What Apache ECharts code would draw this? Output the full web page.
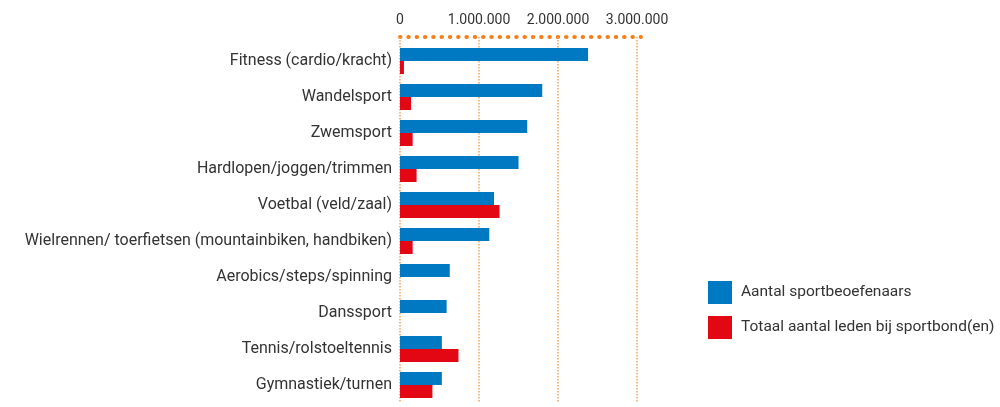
<!DOCTYPE html>
<html>
<head>
<meta charset="utf-8">
<script src="https://cdn.jsdelivr.net/npm/echarts@6/dist/echarts.min.js"></script>
<style>
  html, body { margin: 0; padding: 0; background: #fff; }
  #chart { width: 1000px; height: 407px; }
</style>
</head>
<body>
<div id="chart"></div>
<script>
// sporten, van boven naar beneden
var categories = [
  "Fitness (cardio/kracht)",
  "Wandelsport",
  "Zwemsport",
  "Hardlopen/joggen/trimmen",
  "Voetbal (veld/zaal)",
  "Wielrennen/ toerfietsen (mountainbiken, handbiken)",
  "Aerobics/steps/spinning",
  "Danssport",
  "Tennis/rolstoeltennis",
  "Gymnastiek/turnen"
];

var beoefenaars = [2380000, 1800000, 1610000, 1500000, 1190000, 1130000, 630000, 590000, 530000, 530000];
var leden = [50000, 140000, 160000, 210000, 1260000, 160000, 0, 0, 740000, 410000];

var tickLabels = ["0", "1.000.000", "2.000.000", "3.000.000"];

var orange = "#f57f17";     // as-lijn (stippen)
var orangeLight = "#f3a25a"; // rasterlijnen

var chart = echarts.init(document.getElementById("chart"));
chart.setOption({
  animation: false,
  textStyle: { fontFamily: "Roboto" },
  legend: {
    orient: "vertical",
    left: 703,
    top: 276,
    itemWidth: 24,
    itemHeight: 23,
    itemGap: 12,
    icon: "rect",
    textStyle: { fontSize: 15.5, color: "#333", padding: [0, 0, 0, 4] },
    data: ["Aantal sportbeoefenaars", "Totaal aantal leden bij sportbond(en)"]
  },
  grid: { left: 400, right: 359, top: 43, bottom: 4 },
  xAxis: {
    type: "value",
    position: "top",
    offset: 6,
    min: 0,
    max: 3050000,
    interval: 1000000,
    axisLine: {
      show: true,
      lineStyle: { color: orange, width: 4, type: [0.5, 7.8], cap: "round" }
    },
    axisTick: {
      show: true,
      inside: true,
      length: 6,
      lineStyle: { color: orangeLight, width: 1.5, type: [1.5, 1.5] }
    },
    axisLabel: {
      fontSize: 14,
      color: "#333",
      margin: 10,
      showMaxLabel: false,
      formatter: function (v) {
        var i = Math.round(v / 1000000);
        return tickLabels[i] || "";
      }
    },
    splitLine: {
      show: true,
      showMaxLine: false,
      lineStyle: { color: orangeLight, width: 1.5, type: [1.5, 1.5] }
    }
  },
  yAxis: {
    type: "category",
    inverse: true,
    data: categories,
    axisLine: { show: false },
    axisTick: { show: false },
    axisLabel: { fontSize: 16, color: "#333", margin: 8 }
  },
  series: [
    {
      name: "Aantal sportbeoefenaars",
      type: "bar",
      data: beoefenaars,
      barWidth: 13,
      barGap: "0%",
      itemStyle: { color: "#0079c2" }
    },
    {
      name: "Totaal aantal leden bij sportbond(en)",
      type: "bar",
      data: leden,
      barWidth: 13,
      itemStyle: { color: "#e30613" }
    }
  ]
});
</script>
</body>
</html>
